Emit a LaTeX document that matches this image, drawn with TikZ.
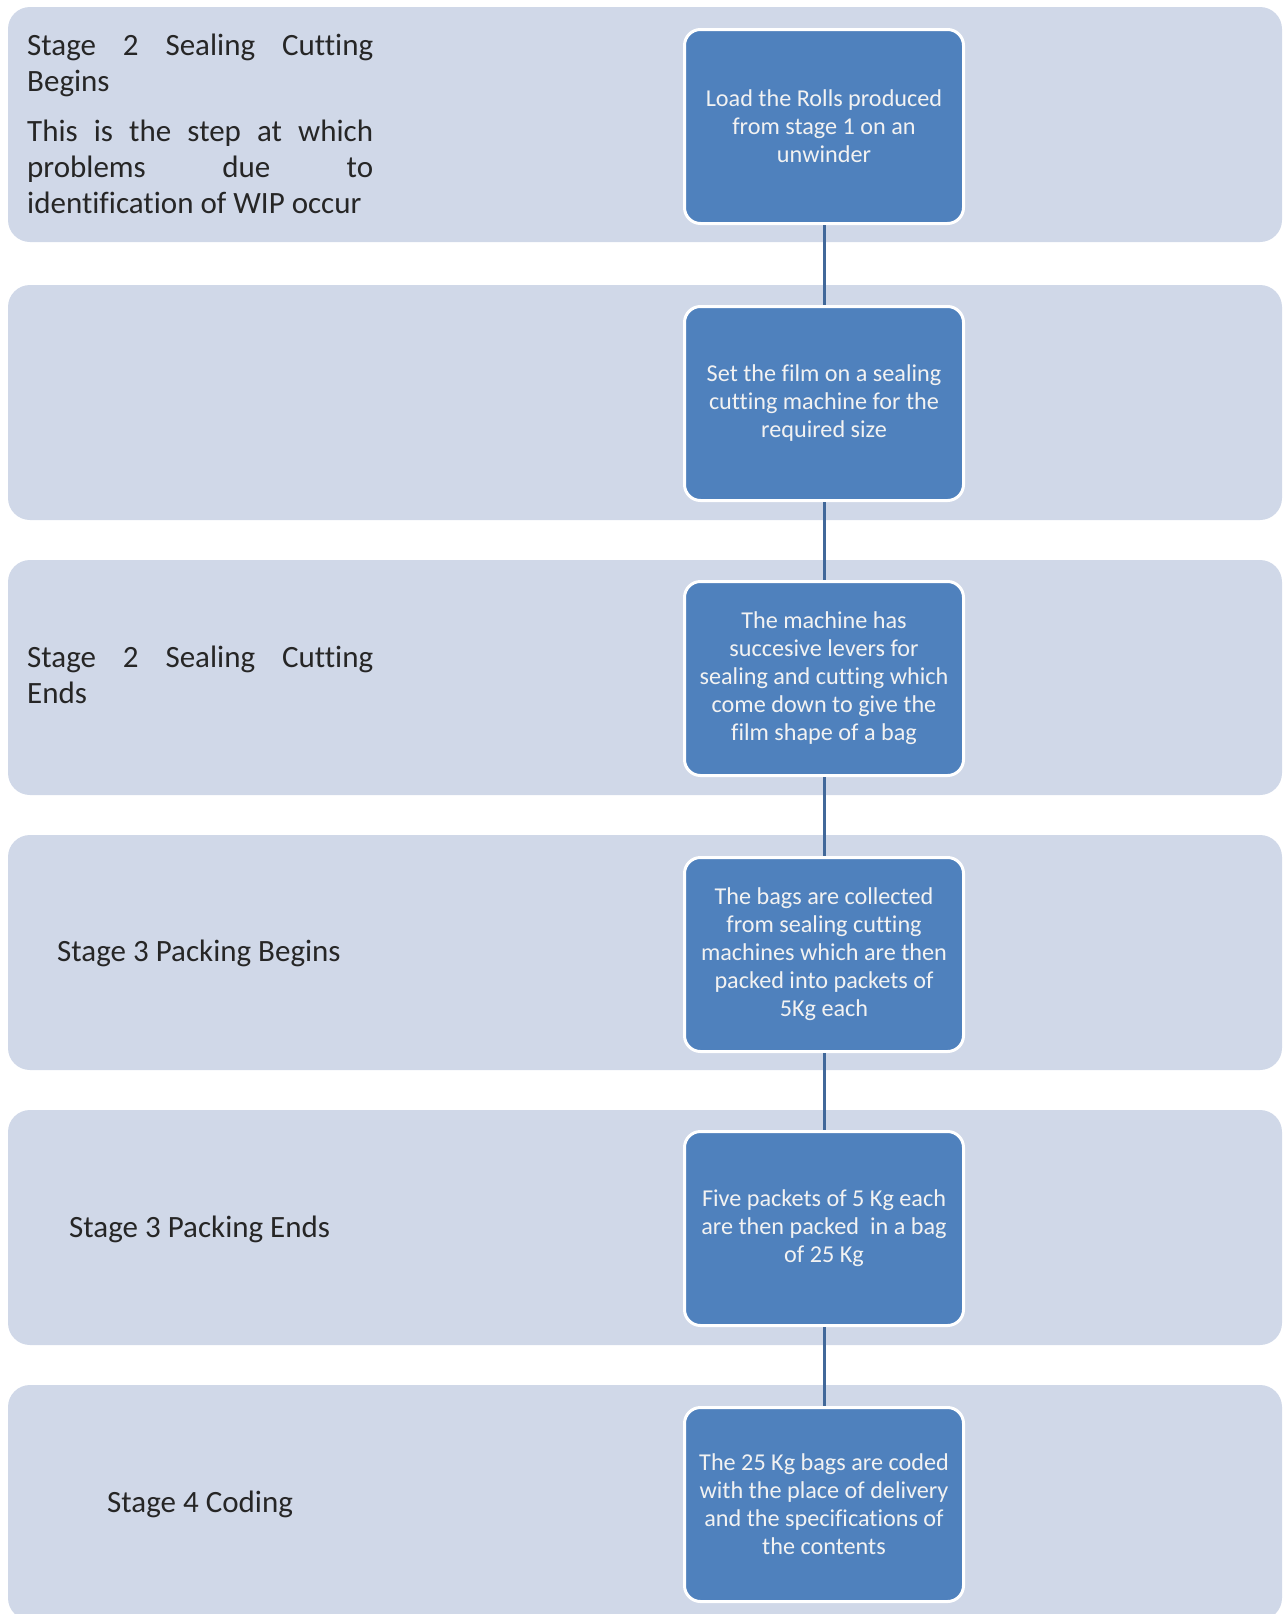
\documentclass[tikz,border=0pt]{standalone}
\usepackage{fontspec}
\setmainfont[Ligatures=NoCommon]{Carlito}
\definecolor{bandfill}{HTML}{D0D8E8}
\definecolor{boxfill}{HTML}{4F81BD}
\definecolor{linkcol}{HTML}{41689A}
\definecolor{boxtext}{HTML}{F2F2F2}
\definecolor{lefttext}{HTML}{262626}
\tikzset{
  band/.style={fill=bandfill, draw=none, rounded corners=22pt, minimum width=1274pt, minimum height=235pt, inner sep=0pt, outer sep=0pt},
  stepbox/.style={fill=boxfill, draw=white, line width=3pt, rounded corners=16pt, minimum width=279pt, minimum height=194pt, inner sep=0pt, outer sep=1.5pt, align=center, text=boxtext, font=\fontsize{24.2}{28}\selectfont},
  link/.style={draw=linkcol, line width=3pt},
  lefttxt/.style={anchor=base west, inner sep=0pt, text=lefttext, font=\fontsize{31}{36}\selectfont}
}
\begin{document}
\begin{tikzpicture}[x=1pt,y=-1pt]
\useasboundingbox (0,0) rectangle (1285,1614);
% bands
\node[band] (band1) at (645,124.5) {};
\node[band] (band2) at (645,402.5) {};
\node[band] (band3) at (645,677.5) {};
\node[band] (band4) at (645,952.5) {};
\node[band] (band5) at (645,1227.5) {};
\node[band] (band6) at (645,1502.5) {};
% boxes
\node[stepbox] (b1) at (824,126.5) {Load the Rolls produced\\from stage 1 on an\\unwinder};
\node[stepbox] (b2) at (824,403.5) {Set the film on a sealing\\cutting machine for the\\required size};
\node[stepbox] (b3) at (824,678.5) {The machine has\\succesive levers for\\sealing and cutting which\\come down to give the\\film shape of a bag};
\node[stepbox] (b4) at (824,954.5) {The bags are collected\\from sealing cutting\\machines which are then\\packed into packets of\\5Kg each};
\node[stepbox] (b5) at (824,1228.5) {Five packets of 5 Kg each\\are then packed\ \ in a bag\\of 25 Kg};
\node[stepbox] (b6) at (824,1504.5) {The 25 Kg bags are coded\\with the place of delivery\\and the specifications of\\the contents};
% connectors
\draw[link] (b1.south) -- (b2.north);
\draw[link] (b2.south) -- (b3.north);
\draw[link] (b3.south) -- (b4.north);
\draw[link] (b4.south) -- (b5.north);
\draw[link] (b5.south) -- (b6.north);
% left texts
\node[lefttxt] (t1a) at (27,55) {\hbox to 346pt{Stage\hfill 2\hfill Sealing\hfill Cutting}};
\node[lefttxt] (t1b) at (27,91) {Begins};
\node[lefttxt] (t1c) at (27,141) {\hbox to 346pt{This\hfill is\hfill the\hfill step\hfill at\hfill which}};
\node[lefttxt] (t1d) at (27,177) {\hbox to 346pt{problems\hfill due\hfill to}};
\node[lefttxt] (t1e) at (27,213) {identification of WIP occur};
\node[lefttxt] (t3a) at (27,667) {\hbox to 346pt{Stage\hfill 2\hfill Sealing\hfill Cutting}};
\node[lefttxt] (t3b) at (27,703) {Ends};
\node[lefttxt] (t4) at (57,961) {Stage 3 Packing Begins};
\node[lefttxt] (t5) at (69,1237) {Stage 3 Packing Ends};
\node[lefttxt] (t6) at (107,1512) {Stage 4 Coding};
\end{tikzpicture}
\end{document}
